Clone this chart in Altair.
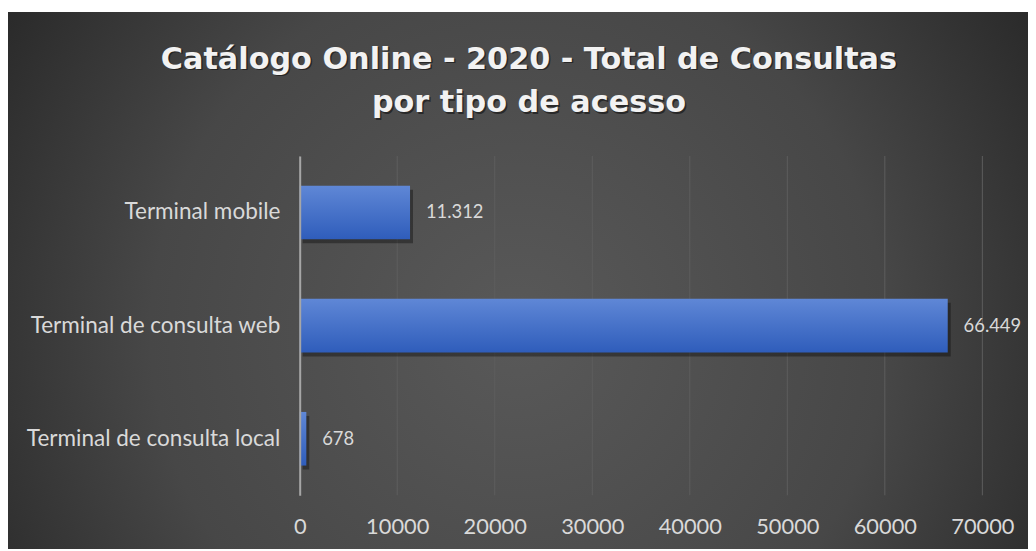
import altair as alt
import pandas as pd

categories = ["Terminal mobile", "Terminal de consulta web", "Terminal de consulta local"]
values = [11312, 66449, 678]
x_ticks = [0, 10000, 20000, 30000, 40000, 50000, 60000, 70000]
title_lines = ["Catálogo Online - 2020 - Total de Consultas", "por tipo de acesso"]

df = pd.DataFrame({"cat": categories, "v": values})
ticks_df = pd.DataFrame({"t": x_ticks})

W, H = 688, 342
PL, PT, PR, PB = 294, 147, 46, 54

bg_grad = {
    "gradient": "radial",
    "x1": 0.5, "y1": 0.55, "r1": 0,
    "x2": 0.5, "y2": 0.55, "r2": 0.72,
    "stops": [
        {"offset": 0, "color": "#595959"},
        {"offset": 0.5, "color": "#474747"},
        {"offset": 1, "color": "#1a1a1a"},
    ],
}
bar_grad = {
    "gradient": "linear",
    "x1": 0, "y1": 0, "x2": 0, "y2": 1,
    "stops": [
        {"offset": 0, "color": "#5f87d6"},
        {"offset": 1, "color": "#2f5dbb"},
    ],
}

xscale = alt.Scale(domain=[0, 70000], nice=False)
ysc = alt.Scale(paddingInner=0.526, paddingOuter=0.263)
yenc = alt.Y("cat:N", sort=categories, scale=ysc,
             axis=alt.Axis(title=None, domain=True, domainColor="#a6a6a6", domainWidth=2,
                           ticks=False, labelPadding=20, labelFontSize=22.7, labelFont="Lato",
                           labelColor="#d9d9d9", labelLimit=500, grid=False, zindex=1))
xenc = alt.X("v:Q", scale=xscale,
             axis=alt.Axis(title=None, values=x_ticks, format="d", grid=False,
                           domain=False, ticks=False, labelPadding=21, labelFlush=False,
                           labelOverlap=False,
                           labelFontSize=22, labelFont="Lato", labelColor="#d9d9d9", zindex=1))

bg = alt.Chart(alt.Data(values=[{}])).mark_rect(color=bg_grad).encode(
    x=alt.value(7 - 8 - PL + 1), x2=alt.value(W + PR),
    y=alt.value(10 - 8 - PT), y2=alt.value(H + PB),
)

grid = alt.Chart(ticks_df).mark_rule(color="#5e5e5e", strokeWidth=1).encode(
    x=alt.X("t:Q", scale=xscale), y=alt.value(0), y2=alt.value(H))

base = alt.Chart(df)
shadow = base.mark_bar(color="#000000", opacity=0.35, xOffset=3, yOffset=4).encode(x=xenc, y=yenc)
bars = base.mark_bar(color=bar_grad).encode(x=xenc, y=yenc)
labels = base.mark_text(align="left", baseline="middle", dx=16, font="Lato", fontSize=18.5,
                        color="#d9d9d9").encode(
    x=alt.X("v:Q"), y=alt.Y("cat:N", sort=categories), text=alt.Text("v:Q", format=",d"))

TX = 231
title_style = dict(align="center", baseline="alphabetic", font="DejaVu Sans", fontSize=30.5,
                   fontWeight="bold", color="#f2f2f2")
def title_layer(txt, y, shadow=False):
    style = dict(title_style)
    extra = {}
    if shadow:
        style["color"] = "#111111"
        extra = dict(opacity=0.6, dx=1.5, dy=1.5)
    return alt.Chart(alt.Data(values=[{"t": txt}])).mark_text(**style, **extra).encode(
        text="t:N", x=alt.value(TX), y=alt.value(y))

titles = [
    title_layer(title_lines[0], 67 - 155, True),
    title_layer(title_lines[0], 67 - 155),
    title_layer(title_lines[1], 111 - 155, True),
    title_layer(title_lines[1], 111 - 155),
]

chart = alt.layer(bg, grid, shadow, bars, labels, *titles).properties(
    width=W, height=H,
    autosize=alt.AutoSizeParams(type="none"),
    padding={"left": PL, "top": PT, "right": PR, "bottom": PB},
    background="#ffffff",
).configure_view(stroke=None).configure(
    locale={"number": {"decimal": ",", "thousands": ".", "grouping": [3], "currency": ["", ""]}}
)

chart.save("out.html", embed_options={"renderer": "svg", "actions": False})
